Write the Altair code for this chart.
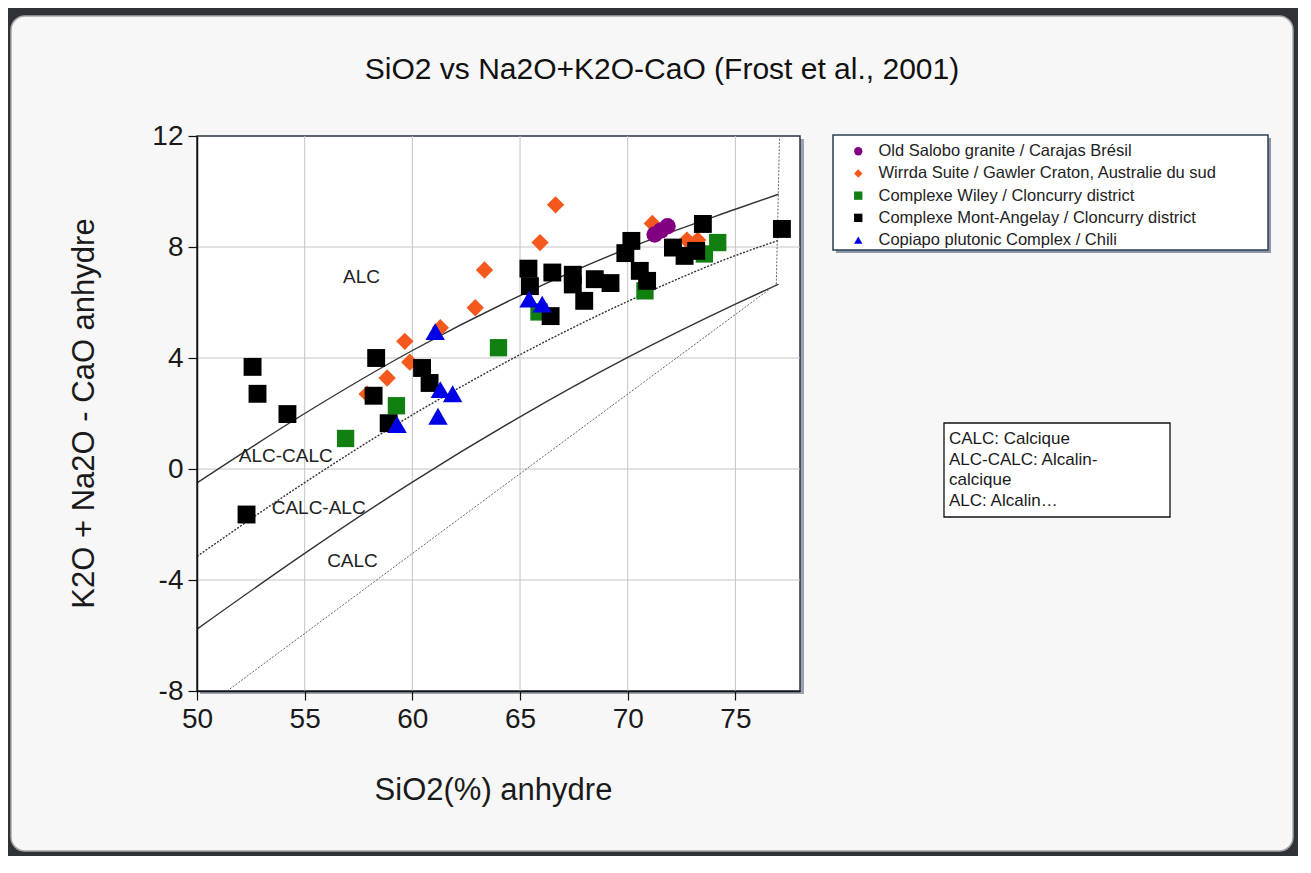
import altair as alt
import pandas as pd

# ---------------- data ----------------
SERIES = [
    "Old Salobo granite / Carajas Brésil",
    "Wirrda Suite / Gawler Craton, Australie du sud",
    "Complexe Wiley / Cloncurry district",
    "Complexe Mont-Angelay / Cloncurry district",
    "Copiapo plutonic Complex / Chili",
]
COLORS = ["#800080", "#f4581c", "#118011", "#000000", "#0000e6"]
SHAPES = ["circle", "diamond", "square", "square", "triangle-up"]

salobo_x = [71.25, 71.55, 71.85]
salobo_y = [8.45, 8.6, 8.75]

wirrda_x = [57.9, 58.83, 59.65, 59.88, 61.3, 62.92, 63.35, 65.93, 66.65, 71.14, 72.75, 73.25]
wirrda_y = [2.7, 3.28, 4.6, 3.85, 5.09, 5.81, 7.17, 8.16, 9.52, 8.85, 8.25, 8.25]

wiley_x = [56.9, 59.26, 64.0, 65.88, 70.8, 73.56, 74.18]
wiley_y = [1.10, 2.28, 4.37, 5.66, 6.42, 7.75, 8.16]

mont_x = [52.3, 52.58, 52.81, 54.2, 58.2, 58.32, 58.9, 60.45, 60.8, 65.39, 65.46,
          66.42, 66.5, 67.45, 67.45, 67.98, 68.47, 69.2, 69.89, 70.17, 70.56, 70.9,
          72.1, 72.64, 73.18, 73.49, 77.16]
mont_y = [-1.64, 3.68, 2.71, 1.98, 2.64, 4.0, 1.65, 3.64, 3.10, 7.22, 6.59,
          5.51, 7.08, 7.0, 6.65, 6.06, 6.84, 6.70, 7.78, 8.22, 7.14, 6.78,
          7.98, 7.68, 7.86, 8.83, 8.65]

copiapo_x = [59.29, 61.06, 61.19, 61.3, 61.87, 65.42, 66.03]
copiapo_y = [1.6, 4.95, 1.9, 2.86, 2.71, 6.12, 5.94]

# boundary curves (Frost et al., 2001)
curve_x = [50, 55, 60, 65, 70, 75, 77]
alc_limit_y = [-0.5, 2.0, 4.27, 6.25, 7.95, 9.36, 9.9]
alk_calc_limit_y = [-3.15, -0.49, 1.95, 4.12, 6.04, 7.69, 8.24]
calc_alk_limit_y = [-5.77, -3.04, -0.47, 1.88, 4.02, 5.94, 6.66]
fe_line_x = [51.4, 63.15, 76.9]
fe_line_y = [-8.0, -1.23, 6.66]
vert_x = [76.9, 77.05]
vert_y = [6.66, 12.0]

region_names = ["ALC", "ALC-CALC", "CALC-ALC", "CALC"]
region_x = [57.64, 54.12, 55.65, 57.22]
region_y = [6.91, 0.47, -1.41, -3.33]

x_ticks = [50, 55, 60, 65, 70, 75]
y_ticks = [-8, -4, 0, 4, 8, 12]
x_grid = [55, 60, 65, 70, 75]
y_grid = [-4, 0, 4, 8]

note_lines = ["CALC: Calcique", "ALC-CALC: Alcalin-", "calcique", "ALC: Alcalin…"]
TITLE = "SiO2 vs Na2O+K2O-CaO (Frost et al., 2001)"
X_TITLE = "SiO2(%) anhydre"
Y_TITLE = "K2O + Na2O - CaO anhydre"

# ---------------- layout ----------------
W, H = 603, 555
FONT = "Liberation Sans"

XS = alt.Scale(domain=[50, 78], nice=False, zero=False)
YS = alt.Scale(domain=[-8, 12], nice=False, zero=False)

X_AXIS = alt.Axis(values=x_ticks, grid=False, tickSize=9, tickColor="#111", tickWidth=1.2,
                  domainColor="#111", domainWidth=1.5, labelFontSize=28, labelPadding=5,
                  labelColor="#1a1a1a", labelFlush=False, labelExpr="'' + datum.value",
                  title=X_TITLE, titleFontSize=31, titleFontWeight="normal", titleColor="#1a1a1a",
                  titleX=296, titleY=99, titleBaseline="middle", titleAlign="center", zindex=1)
Y_AXIS = alt.Axis(values=y_ticks, grid=False, tickSize=9, tickColor="#111", tickWidth=1.2,
                  domainColor="#111", domainWidth=1.5, labelFontSize=28, labelPadding=5,
                  labelColor="#1a1a1a", labelFlush=False, labelExpr="'' + datum.value",
                  title=Y_TITLE, titleFontSize=31, titleFontWeight="normal", titleColor="#1a1a1a",
                  titleX=-113, titleY=277, titleBaseline="middle", titleAlign="center", zindex=1)


def X(field="x"):
    return alt.X(f"{field}:Q", scale=XS, axis=X_AXIS)


def Y(field="y"):
    return alt.Y(f"{field}:Q", scale=YS, axis=Y_AXIS)


one = pd.DataFrame({"k": [0]})

# background panel
panel = alt.Chart(one).mark_rect(fill="#f7f7f7", stroke="#a8a8a8", strokeWidth=1.5,
                                 cornerRadius=14).encode(
    x=alt.value(-186), x2=alt.value(1096), y=alt.value(-120), y2=alt.value(715))

plot_shadow = alt.Chart(one).mark_rect(fill="#9aa3ad").encode(
    x=alt.value(3), x2=alt.value(W + 4), y=alt.value(3), y2=alt.value(H + 3))
plot_bg = alt.Chart(one).mark_rect(fill="white", stroke="#2a3340", strokeWidth=1.5).encode(
    x=alt.value(0), x2=alt.value(W), y=alt.value(0), y2=alt.value(H))

legend_shadow = alt.Chart(one).mark_rect(fill="#8c97a5").encode(
    x=alt.value(639), x2=alt.value(1074), y=alt.value(2), y2=alt.value(117))
legend_box = alt.Chart(one).mark_rect(fill="white", stroke="#2c3e50", strokeWidth=1.5).encode(
    x=alt.value(636), x2=alt.value(1071), y=alt.value(-1), y2=alt.value(114))

note_box = alt.Chart(one).mark_rect(fill="white", stroke="#111", strokeWidth=1.3).encode(
    x=alt.value(747), x2=alt.value(973), y=alt.value(287), y2=alt.value(381))
note_text = alt.Chart(one).mark_text(align="left", baseline="top", fontSize=17, lineHeight=20.5,
                                     color="#1a1a1a", font=FONT).encode(
    x=alt.value(752), y=alt.value(295), text=alt.value(note_lines))

title = alt.Chart(one).mark_text(align="center", baseline="middle", fontSize=30,
                                 color="#111", font=FONT).encode(
    x=alt.value(465), y=alt.value(-66), text=alt.value(TITLE))

# grid lines
gx = alt.Chart(pd.DataFrame({"x": x_grid})).mark_rule(color="#c4c4c4", strokeWidth=1).encode(x=X())
gy = alt.Chart(pd.DataFrame({"y": y_grid})).mark_rule(color="#c4c4c4", strokeWidth=1).encode(y=Y())


def curve_df(xs, ys, name):
    return pd.DataFrame({"x": xs, "y": ys, "curve": name, "i": list(range(len(xs)))})


solid_df = pd.concat([curve_df(curve_x, alc_limit_y, "alc"),
                      curve_df(curve_x, calc_alk_limit_y, "calc")])
dot_df = curve_df(curve_x, alk_calc_limit_y, "alkcalc")
fine_df = pd.concat([curve_df(fe_line_x, fe_line_y, "fe"), curve_df(vert_x, vert_y, "vert")])

solid = alt.Chart(solid_df).mark_line(color="#333", strokeWidth=1.4, interpolate="monotone").encode(
    x=X(), y=Y(), detail="curve:N", order="i:Q")
dotted = alt.Chart(dot_df).mark_line(color="#333", strokeWidth=1.4, strokeDash=[2, 1.5],
                                     interpolate="monotone").encode(
    x=X(), y=Y(), detail="curve:N", order="i:Q")
fine = alt.Chart(fine_df).mark_line(color="#666", strokeWidth=1.0, strokeDash=[2, 1.5]).encode(
    x=X(), y=Y(), detail="curve:N", order="i:Q")

regions = alt.Chart(pd.DataFrame({"x": region_x, "y": region_y, "t": region_names})).mark_text(
    fontSize=19, color="#222", font=FONT).encode(x=X(), y=Y(), text="t:N")

LEG = alt.Legend(title=None, orient="none", legendX=653, legendY=7, padding=0,
                 labelFontSize=16.5, labelOffset=12, labelColor="#222", labelLimit=500,
                 symbolSize=70, symbolStrokeWidth=0, rowPadding=5.2, zindex=1, labelFont=FONT)


def pts(xs, ys, name, size):
    df = pd.DataFrame({"x": xs, "y": ys, "series": name})
    return alt.Chart(df).mark_point(filled=True, opacity=1, size=size, strokeWidth=0).encode(
        x=X(), y=Y(),
        color=alt.Color("series:N", scale=alt.Scale(domain=SERIES, range=COLORS), legend=LEG),
        shape=alt.Shape("series:N", scale=alt.Scale(domain=SERIES, range=SHAPES), legend=LEG),
    )


p_wirrda = pts(wirrda_x, wirrda_y, SERIES[1], 300)
p_salobo = pts(salobo_x, salobo_y, SERIES[0], 270)
p_wiley = pts(wiley_x, wiley_y, SERIES[2], 300)
p_mont = pts(mont_x, mont_y, SERIES[3], 320)
p_copiapo = pts(copiapo_x, copiapo_y, SERIES[4], 380)

chart = alt.layer(
    panel, plot_shadow, plot_bg, legend_shadow, legend_box, note_box,
    gx, gy, solid, dotted, fine, regions,
    p_wirrda, p_salobo, p_wiley, p_mont, p_copiapo,
    note_text, title,
).properties(
    width=W, height=H,
    autosize=alt.AutoSizeParams(type="none"),
    padding={"left": 189, "top": 128, "right": 498, "bottom": 165},
    background="#2f3237",
).configure(font=FONT).configure_view(strokeWidth=0)

chart.save("out.html", embed_options={"renderer": "svg", "actions": False})
